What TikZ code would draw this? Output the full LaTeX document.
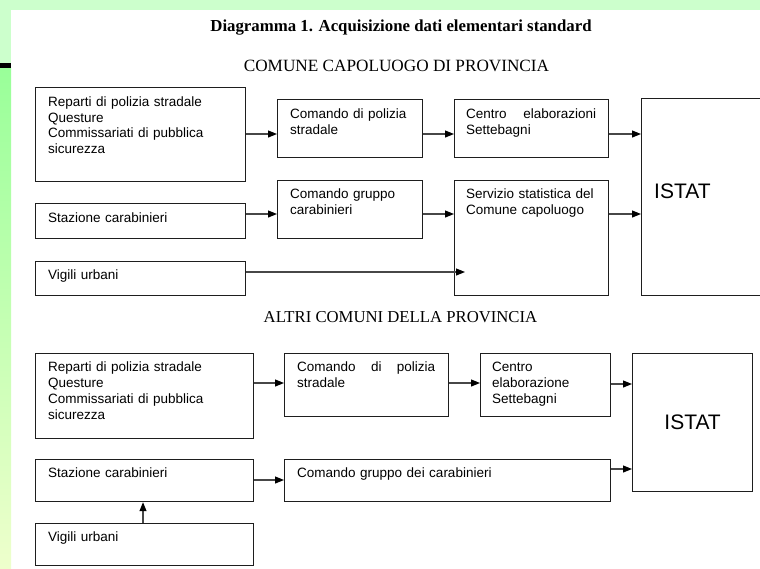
\documentclass[tikz,border=0pt]{standalone}
\usepackage{fontspec}
\setmainfont{Liberation Serif}
\newfontfamily\arialf{Liberation Sans}
\usetikzlibrary{arrows.meta}
\definecolor{bandgreen}{HTML}{CCFFCC}
\definecolor{stripgreen}{HTML}{99FF99}
\definecolor{stripyellow}{HTML}{EEFFCC}
\definecolor{linegray}{HTML}{1E1E1E}
\begin{document}
\begin{tikzpicture}[x=1pt,y=-1pt,
  box/.style={draw=linegray, line width=1.2pt, anchor=north west, inner sep=0pt},
  txt/.style={anchor=base west, inner sep=0pt, align=left, text width=#1,
    font=\arialf\fontsize{13.5}{15.8}\selectfont},
  txt/.default=200pt,
  istat/.style={font=\arialf\fontsize{21}{24}\selectfont},
  arr/.style={draw=black!72, line width=1.1pt, -{Triangle[length=9pt,width=7pt,color=black]}},
  head/.style={inner sep=0pt, anchor=base, font=\fontsize{17}{20}\selectfont}]
\useasboundingbox (0,0) rectangle (760,568);
% background
\fill[white] (0,0) rectangle (760,568);
\fill[bandgreen] (0,0) rectangle (760,10);
\fill[bandgreen] (0,0) rectangle (11,63);
\fill[black] (0,63) rectangle (11,68);
\shade[top color=stripgreen, bottom color=stripyellow] (0,68) rectangle (11,568);
% headings
\node[head, font=\bfseries\fontsize{16.8}{20}\selectfont] (title) at (401,31.7) {Diagramma 1. Acquisizione dati elementari standard};
\node[head, font=\fontsize{17.2}{20}\selectfont] (sub1) at (396.5,71) {COMUNE CAPOLUOGO DI PROVINCIA};
\node[head, font=\fontsize{16.7}{20}\selectfont] (sub2) at (400.5,322) {ALTRI COMUNI DELLA PROVINCIA};
% upper boxes
\node[box, minimum width=210, minimum height=94] (a1) at (35,87) {};
\node[box, minimum width=145, minimum height=58] (b1) at (277,99) {};
\node[box, minimum width=154, minimum height=58] (c1) at (454,99) {};
\node[box, minimum width=140, minimum height=197] (i1) at (641,98) {};
\node[box, minimum width=210, minimum height=35] (a2) at (35,203) {};
\node[box, minimum width=145, minimum height=58] (b2) at (277,180) {};
\node[box, minimum width=154, minimum height=115] (c2) at (454,180) {};
\node[box, minimum width=210, minimum height=34] (a3) at (35,261) {};
% upper texts
\node[txt] (ta1) at (48,106.3) {Reparti di polizia stradale\\Questure\\Commissariati di pubblica\\sicurezza};
\node[txt=125pt] (tb1) at (290,118.5) {Comando di polizia\\stradale};
\node[txt=130pt] (tc1) at (466,118.5) {Centro\hfill elaborazioni\\Settebagni};
\node[istat, anchor=base west, inner sep=0pt] (ti1) at (654,198.3) {ISTAT};
\node[txt=125pt] (tb2) at (290,198.3) {Comando gruppo\\carabinieri};
\node[txt=135pt] (tc2) at (466,198.3) {Servizio statistica del\\Comune capoluogo};
\node[txt] (ta2) at (48,222.3) {Stazione carabinieri};
\node[txt] (ta3) at (48,279.3) {Vigili urbani};
% upper arrows
\coordinate (c2in) at (465,272);
\draw[arr] (a1.east |- 0,134) -- (b1.west |- 0,134);
\draw[arr] (b1.east |- 0,134) -- (c1.west |- 0,134);
\draw[arr] (c1.east |- 0,134) -- (i1.west |- 0,134);
\draw[arr] (a2.east |- 0,214) -- (b2.west |- 0,214);
\draw[arr] (b2.east |- 0,214) -- (c2.west |- 0,214);
\draw[arr] (c2.east |- 0,214) -- (i1.west |- 0,214);
\draw[arr] (a3.east |- c2in) -- (c2in);
% lower boxes
\node[box, minimum width=218, minimum height=85] (d1) at (35,353) {};
\node[box, minimum width=164, minimum height=63] (e1) at (284,353) {};
\node[box, minimum width=130, minimum height=63] (f1) at (480,353) {};
\node[box, istat, minimum width=120, minimum height=138] (i2) at (632,353) {ISTAT};
\node[box, minimum width=218, minimum height=42] (g1) at (35,459) {};
\node[box, minimum width=326, minimum height=42] (h1) at (284,459) {};
\node[box, minimum width=218, minimum height=42] (g2) at (35,523) {};
% lower texts
\node[txt] (td1) at (48,371.7) {Reparti di polizia stradale\\Questure\\Commissariati di pubblica\\sicurezza};
\node[txt=138pt] (te1) at (297,371.7) {Comando\hfill di\hfill polizia\\stradale};
\node[txt=110pt] (tf1) at (492,371.7) {Centro\\elaborazione\\Settebagni};
\node[txt] (tg1) at (48,477.7) {Stazione carabinieri};
\node[txt=300pt] (th1) at (297,477.7) {Comando gruppo dei carabinieri};
\node[txt] (tg2) at (48,541.7) {Vigili urbani};
% lower arrows
\draw[arr] (d1.east |- 0,383) -- (e1.west |- 0,383);
\draw[arr] (e1.east |- 0,383) -- (f1.west |- 0,383);
\draw[arr] (f1.east |- 0,384) -- (i2.west |- 0,384);
\draw[arr] (g1.east |- 0,480) -- (h1.west |- 0,480);
\draw[arr] (h1.east |- 0,469) -- (i2.west |- 0,469);
\draw[arr] (g2.north -| 143,0) -- (g1.south -| 143,0);
\end{tikzpicture}
\end{document}
